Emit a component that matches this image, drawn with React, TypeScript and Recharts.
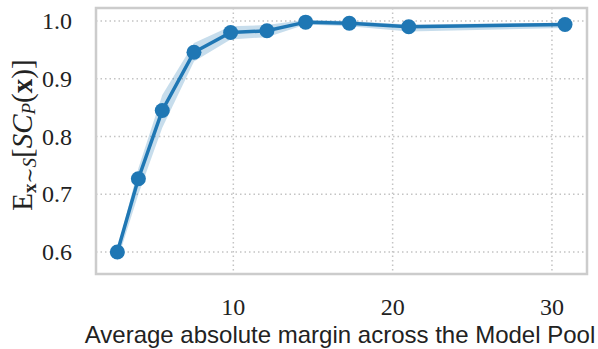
import React from 'react';
import { ComposedChart, Line, Area, XAxis, YAxis, CartesianGrid, ReferenceArea, Label } from 'recharts';

// average absolute margin per pool size, and the mean score with its spread
const margins = [2.72, 4.04, 5.54, 7.53, 9.83, 12.11, 14.54, 17.28, 21.01, 30.82];
const meanScore = [0.6, 0.727, 0.845, 0.946, 0.98, 0.983, 0.998, 0.996, 0.99, 0.994];
const lowScore = [0.585, 0.7, 0.815, 0.93, 0.968, 0.972, 0.994, 0.991, 0.982, 0.988];
const highScore = [0.604, 0.745, 0.872, 0.962, 0.991, 0.993, 1.002, 1.0, 0.994, 0.997];

const xTicks = [10, 20, 30];
const yTicks = [0.6, 0.7, 0.8, 0.9, 1.0];

const X_DOMAIN: [number, number] = [1.38, 32.2];
const Y_DOMAIN: [number, number] = [0.562, 1.0225];

const BLUE = '#1f77b4';
const SERIF = '"Liberation Serif", "DejaVu Serif", serif';
const SANS = '"Liberation Sans", Arial, sans-serif';

const data = margins.map((m, i) => ({
  margin: m,
  score: meanScore[i],
  band: [lowScore[i], highScore[i]],
}));

const XTick = (props: any) => {
  const { x, y, payload } = props;
  return (
    <text x={x} y={y + 39} textAnchor="middle" fontFamily={SERIF} fontSize={24} fill="#222">
      {payload.value}
    </text>
  );
};

const YTick = (props: any) => {
  const { x, y, payload } = props;
  return (
    <text x={x - 22} y={y + 8} textAnchor="end" fontFamily={SERIF} fontSize={24} fill="#222">
      {Number(payload.value).toFixed(1)}
    </text>
  );
};

const YTitle = () => (
  <text
    x={22}
    y={135}
    transform="rotate(-90 22 135)"
    textAnchor="middle"
    dominantBaseline="central"
    fontFamily={SERIF}
    fontSize={29}
    fill="#222"
  >
    <tspan>E</tspan>
    <tspan fontSize={19} dy={7} fontWeight="bold">x</tspan>
    <tspan fontSize={19}>∼</tspan>
    <tspan fontSize={19} fontStyle="italic">S</tspan>
    <tspan dy={-7}>[</tspan>
    <tspan fontStyle="italic">SC</tspan>
    <tspan fontSize={19} dy={6} fontStyle="italic">P</tspan>
    <tspan dy={-6}>(</tspan>
    <tspan fontWeight="bold">x</tspan>
    <tspan>)]</tspan>
  </text>
);

const XTitle = () => (
  <text x={340} y={343} textAnchor="middle" fontFamily={SANS} fontSize={24} fill="#222">
    Average absolute margin across the Model Pool
  </text>
);

export default function App() {
  return (
    <div style={{ position: 'absolute', left: 0, top: 0, width: 598, height: 349, background: '#fff' }}>
      <ComposedChart width={598} height={349} data={data} margin={{ top: 8, right: 11, left: 0, bottom: 0 }}>
        <CartesianGrid stroke="#c4c4c4" strokeWidth={1.5} strokeDasharray="1.5 3" />
        <XAxis
          dataKey="margin"
          type="number"
          domain={X_DOMAIN}
          ticks={xTicks}
          allowDataOverflow
          height={75}
          axisLine={false}
          tickLine={false}
          tickSize={0}
          tick={<XTick />}
        >
          <Label content={<XTitle />} />
        </XAxis>
        <YAxis
          type="number"
          domain={Y_DOMAIN}
          ticks={yTicks}
          allowDataOverflow
          width={96}
          axisLine={false}
          tickLine={false}
          tickSize={0}
          tick={<YTick />}
        >
          <Label content={<YTitle />} />
        </YAxis>
        <Area
          type="linear"
          dataKey="band"
          stroke="none"
          fill={BLUE}
          fillOpacity={0.25}
          isAnimationActive={false}
          activeDot={false}
        />
        <Line
          type="linear"
          dataKey="score"
          stroke={BLUE}
          strokeWidth={3.5}
          dot={{ r: 7.5, fill: BLUE, stroke: 'none' }}
          activeDot={false}
          isAnimationActive={false}
        />
        <ReferenceArea
          x1={X_DOMAIN[0]}
          x2={X_DOMAIN[1]}
          y1={Y_DOMAIN[0]}
          y2={Y_DOMAIN[1]}
          fill="none"
          stroke="#cccccc"
          strokeWidth={2.5}
          ifOverflow="visible"
        />
      </ComposedChart>
    </div>
  );
}
